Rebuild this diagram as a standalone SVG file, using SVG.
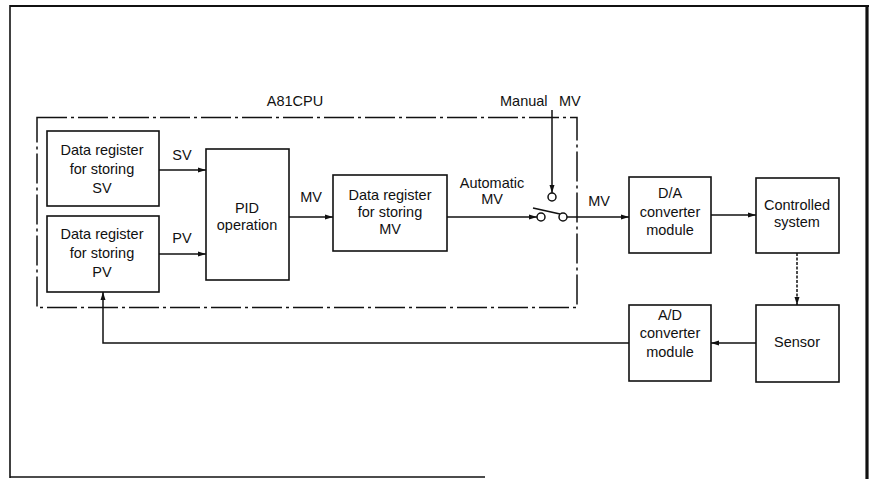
<svg xmlns="http://www.w3.org/2000/svg" width="872" height="479" viewBox="0 0 872 479">
<style>
.box{fill:#fff;stroke:#111;stroke-width:1.6}
.ln{fill:none;stroke:#111;stroke-width:1.5}
.t{font-family:"Liberation Sans",Arial,sans-serif;font-size:14.5px;fill:#111;text-anchor:middle}
.s{font-family:"Liberation Sans",Arial,sans-serif;font-size:14.5px;fill:#111}
</style>
<defs>
<marker id="ah" markerWidth="8" markerHeight="6" refX="8" refY="3" orient="auto" markerUnits="userSpaceOnUse">
<path d="M0,0.5 L8,3 L0,5.5 Z" fill="#111"/>
</marker>
</defs>
<rect width="872" height="479" fill="#fff"/>
<g id="frame">
<line x1="10" y1="6" x2="869" y2="6" stroke="#111" stroke-width="2.2"/>
<line x1="867" y1="5" x2="867" y2="479" stroke="#111" stroke-width="3.2"/>
<line x1="10" y1="5" x2="10" y2="478" stroke="#111" stroke-width="1.6"/>
<line x1="10" y1="477" x2="485" y2="477" stroke="#111" stroke-width="1.4"/>
</g>
<g id="cpu">
<rect x="37" y="117.5" width="540" height="190" fill="none" stroke="#111" stroke-width="1.5" stroke-dasharray="30 4 3 4"/>
<text class="t" x="295" y="106">A81CPU</text>
</g>
<g id="connectors">
<line class="ln" x1="159" y1="170" x2="206" y2="170" marker-end="url(#ah)"/>
<line class="ln" x1="159" y1="254" x2="206" y2="254" marker-end="url(#ah)"/>
<line class="ln" x1="289" y1="217" x2="333" y2="217" marker-end="url(#ah)"/>
<line class="ln" x1="447" y1="217" x2="537" y2="217" marker-end="url(#ah)"/>
<line class="ln" x1="552" y1="110" x2="552" y2="193" marker-end="url(#ah)"/>
<line class="ln" x1="567" y1="217" x2="629" y2="217" marker-end="url(#ah)"/>
<line class="ln" x1="711" y1="215" x2="756" y2="215" marker-end="url(#ah)"/>
<line class="ln" x1="797" y1="253" x2="797" y2="305" stroke-dasharray="3 1.5" marker-end="url(#ah)"/>
<line class="ln" x1="756" y1="343" x2="711" y2="343" marker-end="url(#ah)"/>
<polyline class="ln" points="629,343 103,343 103,292" marker-end="url(#ah)"/>
<text class="t" x="182" y="160">SV</text>
<text class="t" x="182" y="243">PV</text>
<text class="t" x="311" y="202">MV</text>
<text class="t" x="492" y="188">Automatic</text>
<text class="t" x="492" y="204">MV</text>
<text class="s" x="500" y="106">Manual</text>
<text class="s" x="559" y="106">MV</text>
<text class="t" x="599" y="206">MV</text>
</g>
<g id="switch">
<circle cx="541" cy="217" r="4" fill="#fff" stroke="#111" stroke-width="1.5"/>
<circle cx="563" cy="217" r="4" fill="#fff" stroke="#111" stroke-width="1.5"/>
<circle cx="552" cy="197" r="4" fill="#fff" stroke="#111" stroke-width="1.5"/>
<line class="ln" x1="533" y1="208" x2="560" y2="214"/>
</g>
<g id="sv-reg">
<rect class="box" x="47" y="131" width="112" height="75"/>
<text class="t" x="102" y="155">Data register</text>
<text class="t" x="102" y="174">for storing</text>
<text class="t" x="102" y="193">SV</text>
</g>
<g id="pv-reg">
<rect class="box" x="47" y="216" width="112" height="76"/>
<text class="t" x="102" y="239">Data register</text>
<text class="t" x="102" y="258">for storing</text>
<text class="t" x="102" y="277">PV</text>
</g>
<g id="pid">
<rect class="box" x="206" y="149" width="83" height="131"/>
<text class="t" x="247" y="213">PID</text>
<text class="t" x="247" y="230">operation</text>
</g>
<g id="mv-reg">
<rect class="box" x="333" y="175" width="114" height="76"/>
<text class="t" x="390" y="200">Data register</text>
<text class="t" x="390" y="217">for storing</text>
<text class="t" x="390" y="234">MV</text>
</g>
<g id="da">
<rect class="box" x="629" y="177" width="82" height="76"/>
<text class="t" x="670" y="198">D/A</text>
<text class="t" x="670" y="217">converter</text>
<text class="t" x="670" y="235">module</text>
</g>
<g id="controlled">
<rect class="box" x="756" y="178" width="83" height="75"/>
<text class="t" x="797" y="210">Controlled</text>
<text class="t" x="797" y="227">system</text>
</g>
<g id="sensor">
<rect class="box" x="756" y="305" width="83" height="77"/>
<text class="t" x="797" y="347">Sensor</text>
</g>
<g id="ad">
<rect class="box" x="629" y="305" width="82" height="76"/>
<text class="t" x="670" y="320">A/D</text>
<text class="t" x="670" y="338">converter</text>
<text class="t" x="670" y="357">module</text>
</g>
</svg>
